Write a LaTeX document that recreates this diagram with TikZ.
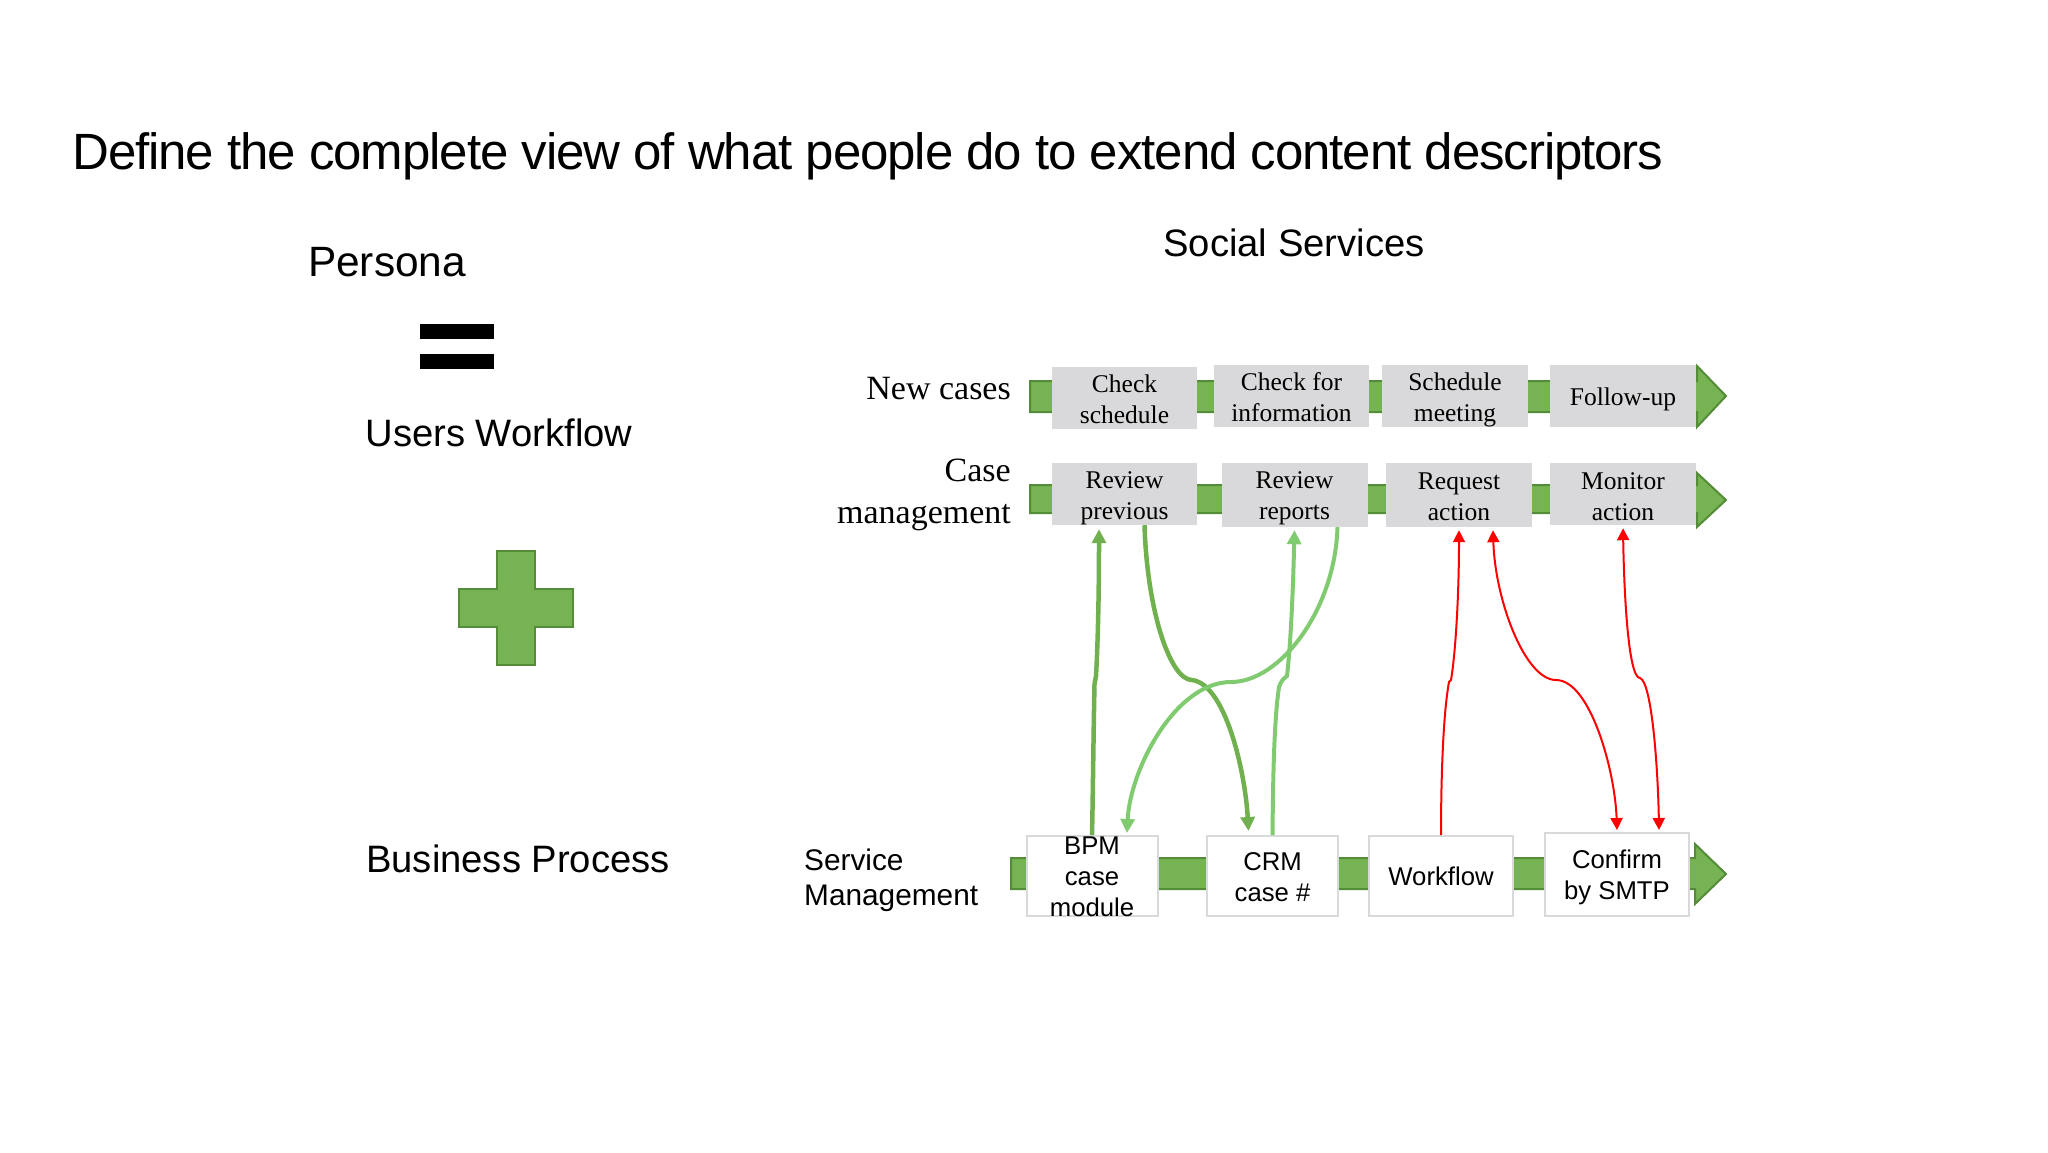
\documentclass[tikz,border=0pt]{standalone}
\usepackage{fontspec}
\setmainfont{Liberation Sans}
\newfontfamily\tnr{Liberation Serif}
\newfontfamily\tighthead[LetterSpace=-2.1]{Liberation Sans}
\usetikzlibrary{arrows.meta,calc}
\definecolor{barfill}{HTML}{76B353}
\definecolor{barline}{HTML}{548C38}
\definecolor{darkgr}{HTML}{70B04E}
\definecolor{lightgr}{HTML}{80CB70}
\definecolor{boxgrey}{HTML}{D9D9DB}
\newcommand{\nd}[1]{\rule{0pt}{\dimexpr 17.4pt+#1pt*2\relax}}
\tikzset{
 bararrow/.style={fill=barfill,draw=barline,line width=2pt,line join=miter},
 greybox/.style={fill=boxgrey,draw=none,inner sep=0pt,align=center,font=\tnr\fontsize{25.5}{31}\selectfont},
 whitebox/.style={fill=white,draw=boxgrey,line width=2pt,inner sep=0pt,align=center,font=\fontsize{25.7}{31}\selectfont},
 rowlabel/.style={inner sep=0pt,align=right,anchor=east,font=\tnr\fontsize{34}{42}\selectfont},
 head/.style={inner sep=0pt,font=\fontsize{38.2}{46}\selectfont},
 darkcon/.style={draw=darkgr,line width=4.5pt,-{Triangle[length=14pt,width=14pt]}},
 lightcon/.style={draw=lightgr,line width=4pt,-{Triangle[length=14pt,width=14pt]}},
 redcon/.style={draw=red,line width=2pt,-{Triangle[length=12pt,width=12pt]}},
 redboth/.style={draw=red,line width=2pt,{Triangle[length=12pt,width=12pt]}-{Triangle[length=12pt,width=12pt]}},
}
\begin{document}
\begin{tikzpicture}[x=1pt,y=-1pt]
\useasboundingbox (0,0) rectangle (2048,1152);
\fill[white] (0,0) rectangle (2048,1152);
% title and headings
\node[inner sep=0pt,anchor=base west,font=\tighthead\fontsize{51}{60}\selectfont] (title) at (72,169) {Define the complete view of what people do to extend content descriptors};
\node[head,font=\fontsize{42.4}{50}\selectfont] (persona) at (387,262) {Persona};
\node[head] (social) at (1294,243) {Social Services};
\node[head] (users) at (499,433) {Users Workflow};
\node[head] (business) at (518,859) {Business Process};
% equals and plus
\fill[black] (420,324) rectangle (494,339);
\fill[black] (420,354) rectangle (494,369);
\draw[bararrow] (497,551)--(535,551)--(535,589)--(573,589)--(573,627)--(535,627)--(535,665)--(497,665)--(497,627)--(459,627)--(459,589)--(497,589)--cycle;
% process bars
\draw[bararrow] (1030,381)--(1697,381)--(1697,366)--(1726,396)--(1697,427)--(1697,412)--(1030,412)--cycle;
\draw[bararrow] (1030,485)--(1697,485)--(1697,473)--(1726,500)--(1697,527)--(1697,513)--(1030,513)--cycle;
\draw[bararrow] (1011,858)--(1695,858)--(1695,844)--(1726,874)--(1695,904)--(1695,889)--(1011,889)--cycle;
% row labels
\node[rowlabel] (newcases) at (1011,389) {New cases};
\node[rowlabel] (casemgmt) at (1011,495) {Case\\management};
\node[inner sep=0pt,align=left,anchor=west,font=\fontsize{29.8}{35}\selectfont] (svcmgmt) at (804,880) {Service\\Management};
% row 1
\node[greybox,minimum width=145pt,minimum height=62pt] (cs) at (1124.5,398) {\nd{1.3}Check\\schedule};
\node[greybox,minimum width=155pt,minimum height=62pt] (cfi) at (1291.5,396) {\nd{1.3}Check for\\information};
\node[greybox,minimum width=146pt,minimum height=62pt] (sm) at (1455,396) {\nd{4}Schedule\\meeting};
\node[greybox,minimum width=146pt,minimum height=62pt] (fu) at (1623,396) {\nd{4}Follow-up};
% row 2
\node[greybox,minimum width=145pt,minimum height=62pt] (rp) at (1124.5,494) {\nd{4}Review\\previous};
\node[greybox,minimum width=146pt,minimum height=64pt] (rr) at (1294.5,495) {\nd{3.5}Review\\reports};
\node[greybox,minimum width=146pt,minimum height=64pt] (ra) at (1459,495) {\nd{1.5}Request\\action};
\node[greybox,minimum width=146pt,minimum height=62pt] (ma) at (1623,494) {\nd{2}Monitor\\action};
% row 3
\node[whitebox,minimum width=131pt,minimum height=80pt] (bpm) at (1092,876) {\smash{\raisebox{-9.5pt}{\begin{tabular}[c]{@{}c@{}}BPM\\case\\module\end{tabular}}}};
\node[whitebox,minimum width=131pt,minimum height=80pt] (crm) at (1272.5,876) {\nd{1}CRM\\case \#};
\node[whitebox,minimum width=144pt,minimum height=80pt] (wf) at (1441,876) {Workflow};
\node[whitebox,minimum width=144pt,minimum height=83pt] (conf) at (1617,874.5) {\nd{3}Confirm\\by SMTP};
% connectors
\draw[darkcon] (bpm.north) .. controls (1093,790) and (1093.5,730) .. (1094.5,684) .. controls (1095,680) .. (1096,676) .. controls (1098,640) and (1099,590) .. ([xshift=-25.5pt,yshift=-4pt]rp.south);
\draw[darkcon] ([xshift=20pt]rp.south) .. controls (1147,610) and (1170,680) .. (1192,680) .. controls (1225,684) and (1245,770) .. ([xshift=-24pt,yshift=4pt]crm.north);
\draw[lightcon] (crm.north) .. controls (1273,780) and (1274,720) .. (1279,687) .. controls (1282,680) .. (1287,676) .. controls (1291,640) and (1293,590) .. ([yshift=-3pt]rr.south);
\draw[lightcon] ([xshift=43pt]rr.south) .. controls (1335,610) and (1280,682) .. (1231,682) .. controls (1175,682) and (1130,770) .. ([xshift=35pt,yshift=2pt]bpm.north);
\draw[redcon] (wf.north) .. controls (1441,780) and (1443,720) .. (1448,688) .. controls (1449,681) .. (1451,680) .. controls (1456,650) and (1459,590) .. ([yshift=-3pt]ra.south);
\draw[redboth] ([xshift=34pt,yshift=-3pt]ra.south) .. controls (1495,600) and (1525,680) .. (1556,680) .. controls (1590,680) and (1615,770) .. ([yshift=2pt]conf.north);
\draw[redboth] ([yshift=-3pt]ma.south) .. controls (1624,590) and (1628,678) .. (1640,678) .. controls (1652,682) and (1658,770) .. ([xshift=42pt,yshift=2pt]conf.north);
\end{tikzpicture}
\end{document}
